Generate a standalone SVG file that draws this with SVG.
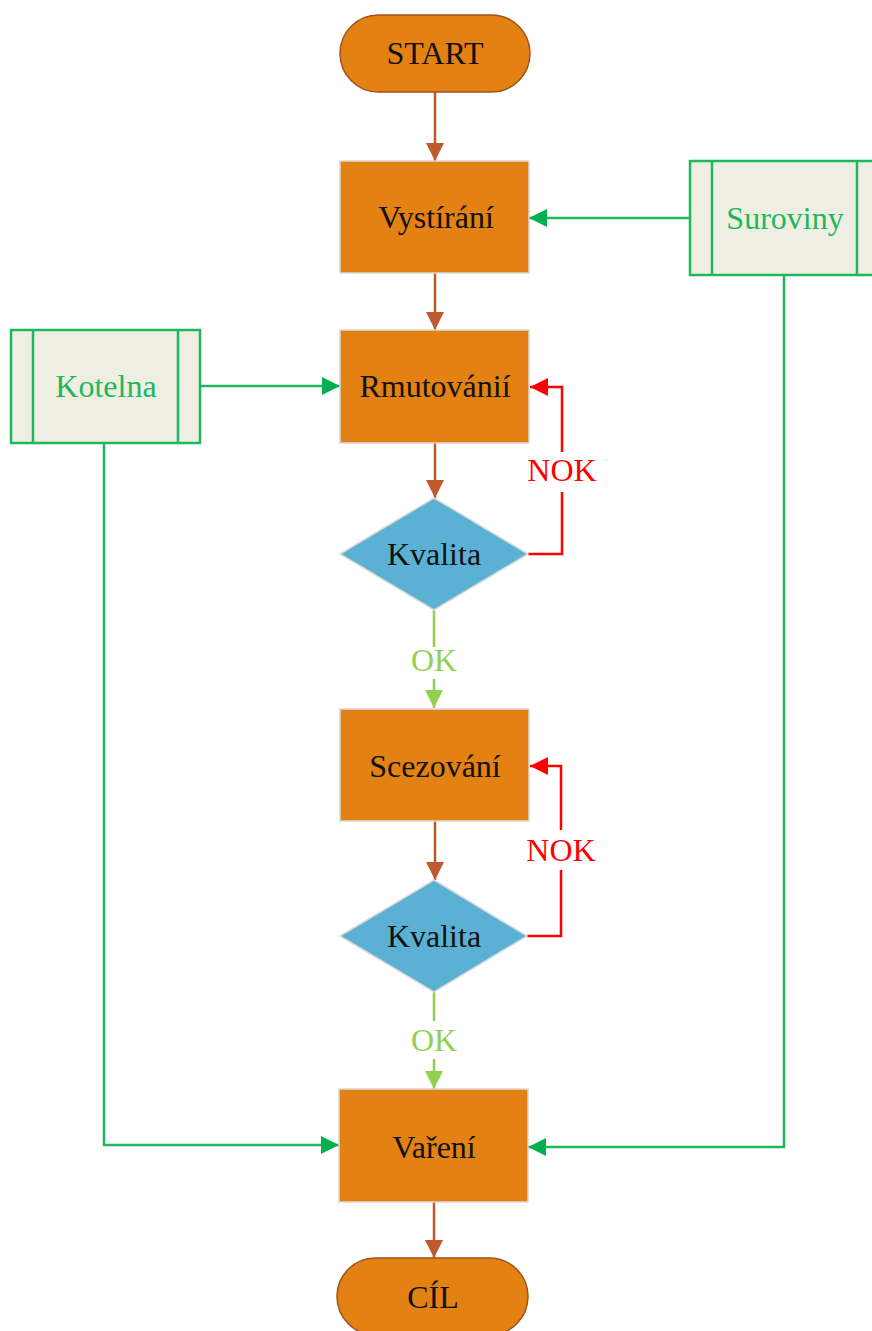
<svg xmlns="http://www.w3.org/2000/svg" width="872" height="1331" viewBox="0 0 872 1331">
<style>
text{font-family:"Liberation Serif","Times New Roman",serif;font-size:32px;text-anchor:middle}
.term{fill:#E38212;stroke:#A0521E;stroke-width:1.5}
.proc{fill:#E38212;stroke:#D9D9D9;stroke-width:1.5}
.dec{fill:#5BB1D4;stroke:#D9D9D9;stroke-width:1.5}
.ext{fill:#EFEEE3;stroke:#1DB85C;stroke-width:2.5}
.dark{fill:#111}
.gtxt{fill:#1DB85C}
.brown{fill:none;stroke:#BE5A2E;stroke-width:2.5}
.green{fill:none;stroke:#1DB85C;stroke-width:2.5}
.lgreen{fill:none;stroke:#92D050;stroke-width:2.5}
.red{fill:none;stroke:#FF0000;stroke-width:2.5}
</style>
<defs>
<marker id="aBrown" viewBox="0 0 18 18" refX="18" refY="9" markerWidth="18" markerHeight="18" markerUnits="userSpaceOnUse" orient="auto"><path d="M0,0 L18,9 L0,18 z" fill="#BE5A2E"/></marker>
<marker id="aGreen" viewBox="0 0 18 18" refX="18" refY="9" markerWidth="18" markerHeight="18" markerUnits="userSpaceOnUse" orient="auto"><path d="M0,0 L18,9 L0,18 z" fill="#00B050"/></marker>
<marker id="aLGreen" viewBox="0 0 18 18" refX="18" refY="9" markerWidth="18" markerHeight="18" markerUnits="userSpaceOnUse" orient="auto"><path d="M0,0 L18,9 L0,18 z" fill="#92D050"/></marker>
<marker id="aRed" viewBox="0 0 18 18" refX="18" refY="9" markerWidth="18" markerHeight="18" markerUnits="userSpaceOnUse" orient="auto"><path d="M0,0 L18,9 L0,18 z" fill="#FF0000"/></marker>
</defs>
<rect width="872" height="1331" fill="#fff"/>
<g id="connectors">
<path class="brown" d="M435,92 V161" marker-end="url(#aBrown)"/>
<path class="brown" d="M435,273 V330" marker-end="url(#aBrown)"/>
<path class="brown" d="M435,443 V498" marker-end="url(#aBrown)"/>
<path class="brown" d="M435,821 V880" marker-end="url(#aBrown)"/>
<path class="brown" d="M434,1202 V1258" marker-end="url(#aBrown)"/>
<path class="red" d="M528,554 H562 V492 M562,452 V387 H530" marker-end="url(#aRed)"/>
<path class="red" d="M527,936 H561 V870 M561,830 V766 H530" marker-end="url(#aRed)"/>
<path class="lgreen" d="M434,610 V647 M434,679 V708" marker-end="url(#aLGreen)"/>
<path class="lgreen" d="M434,992 V1021 M434,1059 V1089" marker-end="url(#aLGreen)"/>
<path class="green" d="M200,386 H340" marker-end="url(#aGreen)"/>
<path class="green" d="M104,443 V1145 H339" marker-end="url(#aGreen)"/>
<path class="green" d="M690,218 H529" marker-end="url(#aGreen)"/>
<path class="green" d="M784,275 V1147 H528" marker-end="url(#aGreen)"/>
<text x="562" y="481" fill="#FF0000">NOK</text>
<text x="561" y="861" fill="#FF0000">NOK</text>
<text x="434" y="671" fill="#92D050">OK</text>
<text x="434" y="1051" fill="#92D050">OK</text>
</g>
<g id="start"><rect class="term" x="340" y="15" width="190" height="77" rx="38.5"/><text class="dark" x="435" y="64">START</text></g>
<g id="vystirani"><rect class="proc" x="340" y="161" width="189" height="112"/><text class="dark" x="436" y="228">Vystírání</text></g>
<g id="suroviny"><rect class="ext" x="690" y="161" width="189" height="114"/><line class="green" x1="712" y1="161" x2="712" y2="275"/><line class="green" x1="857" y1="161" x2="857" y2="275"/><text class="gtxt" x="785" y="229">Suroviny</text></g>
<g id="kotelna"><rect class="ext" x="11" y="330" width="189" height="113"/><line class="green" x1="33" y1="330" x2="33" y2="443"/><line class="green" x1="178" y1="330" x2="178" y2="443"/><text class="gtxt" x="106" y="397">Kotelna</text></g>
<g id="rmutovani"><rect class="proc" x="340" y="330" width="189" height="113"/><text class="dark" x="435" y="397">Rmutovánií</text></g>
<g id="kvalita1"><polygon class="dec" points="434,498 528,554 434,610 340,554"/><text class="dark" x="434" y="565">Kvalita</text></g>
<g id="scezovani"><rect class="proc" x="340" y="709" width="189" height="112"/><text class="dark" x="435" y="777">Scezování</text></g>
<g id="kvalita2"><polygon class="dec" points="434,880 527,936 434,992 340,936"/><text class="dark" x="434" y="947">Kvalita</text></g>
<g id="vareni"><rect class="proc" x="339" y="1089" width="189" height="113"/><text class="dark" x="434" y="1158">Vaření</text></g>
<g id="cil"><rect class="term" x="337" y="1258" width="191" height="77" rx="38.5"/><text class="dark" x="433" y="1308">CÍL</text></g>
</svg>
